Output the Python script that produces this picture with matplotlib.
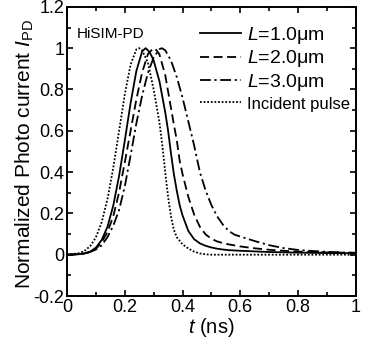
import matplotlib
matplotlib.use("Agg")
import matplotlib.pyplot as plt
from matplotlib.ticker import MultipleLocator

plt.rcParams['font.family'] = ['Liberation Sans', 'DejaVu Sans']
plt.rcParams['mathtext.fontset'] = 'custom'
plt.rcParams['mathtext.rm'] = 'Liberation Sans'
plt.rcParams['mathtext.it'] = 'Liberation Sans:italic'

# ----- data -----
t_pulse = [0, 0.02, 0.04, 0.06, 0.08, 0.10, 0.12, 0.14, 0.16, 0.18, 0.20, 0.22, 0.24, 0.25,
           0.26, 0.28, 0.30, 0.32, 0.33, 0.34, 0.35, 0.36, 0.37, 0.38, 0.40, 0.42, 0.44,
           0.46, 0.48, 0.50, 0.60, 0.80, 1.00]
i_pulse = [0.0, 0.003, 0.007, 0.018, 0.041, 0.084, 0.157, 0.269, 0.419, 0.597, 0.776, 0.92, 0.994, 1.0,
           0.99, 0.93, 0.80, 0.64, 0.53, 0.40, 0.28, 0.185, 0.12, 0.085, 0.05, 0.03, 0.015,
           0.006, 0.002, 0.0, 0.0, 0.0, 0.0]

t_l1 = [0, 0.02, 0.04, 0.06, 0.08, 0.10, 0.12, 0.14, 0.16, 0.18, 0.20, 0.22, 0.24, 0.26, 0.272,
        0.28, 0.29, 0.30, 0.32, 0.34, 0.35, 0.36, 0.37, 0.38, 0.39, 0.40, 0.42, 0.44, 0.46,
        0.48, 0.50, 0.52, 0.54, 0.56, 0.60, 0.65, 0.70, 0.80, 0.90, 1.00]
i_l1 = [0.0, 0.001, 0.002, 0.006, 0.015, 0.034, 0.071, 0.135, 0.237, 0.379, 0.552, 0.733, 0.889, 0.984, 1.0,
        0.99, 0.97, 0.94, 0.84, 0.69, 0.60, 0.49, 0.39, 0.31, 0.24, 0.19, 0.115, 0.075, 0.055,
        0.043, 0.035, 0.029, 0.025, 0.022, 0.019, 0.016, 0.013, 0.010, 0.008, 0.007]

t_l2 = [0, 0.02, 0.04, 0.06, 0.08, 0.10, 0.12, 0.14, 0.16, 0.18, 0.20, 0.22, 0.24, 0.26, 0.28, 0.299,
        0.31, 0.32, 0.34, 0.36, 0.37, 0.38, 0.39, 0.40, 0.42, 0.44, 0.46, 0.48, 0.50, 0.52,
        0.54, 0.56, 0.58, 0.60, 0.65, 0.70, 0.75, 0.80, 0.90, 1.00]
i_l2 = [0.0, 0.001, 0.003, 0.006, 0.013, 0.028, 0.06, 0.11, 0.185, 0.30, 0.447, 0.599, 0.751, 0.882, 0.971, 1.0,
        0.99, 0.97, 0.87, 0.71, 0.63, 0.555, 0.455, 0.39, 0.28, 0.195, 0.135, 0.098, 0.077, 0.064,
        0.056, 0.05, 0.045, 0.04, 0.031, 0.024, 0.019, 0.015, 0.011, 0.009]

t_l3 = [0, 0.02, 0.04, 0.06, 0.08, 0.10, 0.12, 0.14, 0.16, 0.18, 0.20, 0.22, 0.24, 0.26, 0.28, 0.30,
        0.32, 0.328, 0.34, 0.36, 0.38, 0.40, 0.42, 0.44, 0.46, 0.48, 0.50, 0.52, 0.54, 0.56,
        0.58, 0.60, 0.65, 0.70, 0.75, 0.80, 0.85, 0.90, 0.95, 1.00]
i_l3 = [0.0, 0.001, 0.003, 0.006, 0.013, 0.025, 0.045, 0.085, 0.14, 0.215, 0.33, 0.48, 0.635, 0.77, 0.88, 0.955,
        0.995, 1.0, 0.99, 0.94, 0.86, 0.76, 0.645, 0.53, 0.40, 0.31, 0.24, 0.185, 0.145, 0.115,
        0.097, 0.088, 0.066, 0.046, 0.032, 0.023, 0.018, 0.014, 0.011, 0.009]

x_ticks = [0, 0.2, 0.4, 0.6, 0.8, 1]
x_ticklabels = ['0', '0.2', '0.4', '0.6', '0.8', '1']
y_ticks = [-0.2, 0, 0.2, 0.4, 0.6, 0.8, 1, 1.2]
y_ticklabels = ['-0.2', '0', '0.2', '0.4', '0.6', '0.8', '1', '1.2']

# --- figure ---
fig = plt.figure(figsize=(3.67, 3.43), dpi=100)
ax = fig.add_axes([0.1826, 0.137, 0.787, 0.843])

lw = 1.3
ax.plot(t_l1, i_l1, color='black', lw=lw, ls='-', label=r'$L$=1.0$\mathrm{\mu}$m')
ax.plot(t_l2, i_l2, color='black', lw=lw, ls=(0, (5, 2.5)), label=r'$L$=2.0$\mathrm{\mu}$m')
ax.plot(t_l3, i_l3, color='black', lw=lw, ls=(0, (6, 2, 1.2, 2)), label=r'$L$=3.0$\mathrm{\mu}$m')
ax.plot(t_pulse, i_pulse, color='black', lw=lw, ls=(0, (1, 1)), label='Incident pulse')

ax.set_xlim(0, 1)
ax.set_ylim(-0.2, 1.2)
ax.set_xticks(x_ticks)
ax.set_xticklabels(x_ticklabels)
ax.set_yticks(y_ticks)
ax.set_yticklabels(y_ticklabels)
ax.xaxis.set_minor_locator(MultipleLocator(0.1))
ax.yaxis.set_minor_locator(MultipleLocator(0.1))
ax.tick_params(which='both', direction='in', top=True, right=True, labelsize=13, width=1.2, pad=2)
ax.tick_params(which='major', length=4)
ax.tick_params(which='minor', length=3)
for s in ax.spines.values():
    s.set_linewidth(1.4)

ax.set_xlabel(r'$t$ (ns)', fontsize=14.5, labelpad=0)
ax.set_ylabel(r'Normalized Photo current $I_{\mathrm{PD}}$', fontsize=15)
ax.yaxis.set_label_coords(-0.107, 0.49)

ax.text(0.035, 0.905, 'HiSIM-PD', transform=ax.transAxes, fontsize=11, va='center', ha='left')

leg = ax.legend(loc='upper right', bbox_to_anchor=(1.0, 0.957), frameon=False, fontsize=14,
                handlelength=2.1, handletextpad=0.3, labelspacing=0.12, borderaxespad=0,
                borderpad=0.3)
leg.get_texts()[3].set_fontsize(12)

fig.savefig('out.png', dpi=100)
